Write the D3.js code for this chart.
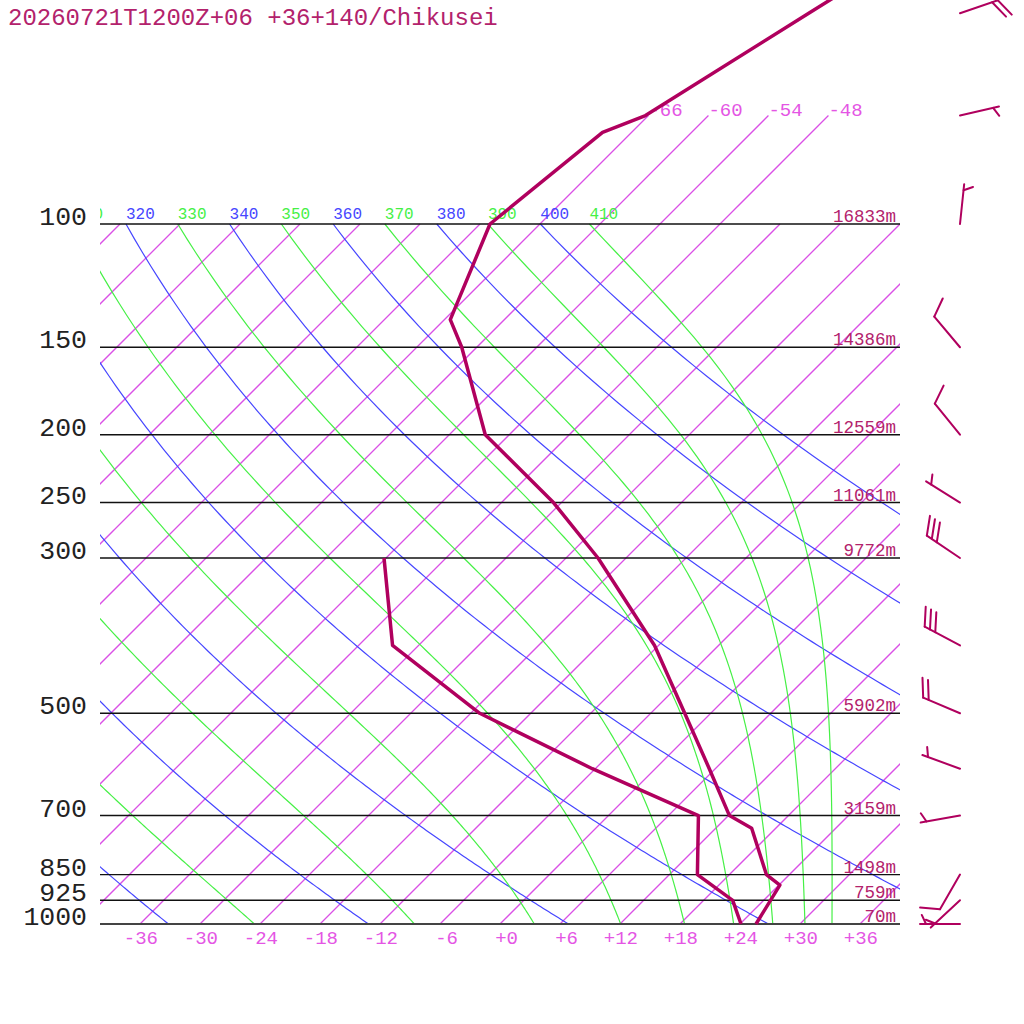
<!DOCTYPE html>
<html>
<head>
<meta charset="utf-8">
<script src="https://cdn.jsdelivr.net/npm/d3@7"></script>
<style>
  body { margin: 0; background: #fff; }
  svg { display: block; }
  text { font-family: "Liberation Mono", "DejaVu Sans Mono", monospace; }
</style>
</head>
<body>
<div id="chart"></div>
<script>
const title = "20260721T1200Z+06 +36+140/Chikusei";

// standard levels and their heights (m)
const levels = [1000, 925, 850, 700, 500, 300, 250, 200, 150, 100];
const heights = [70, 759, 1498, 3159, 5902, 9772, 11061, 12559, 14386, 16833];

// temperature profile (hPa, degC)
const tempP = [1000, 880, 850, 730, 700, 600, 500, 400, 300, 250, 200, 150, 137, 100, 74, 70, 50, 30];
const tempT = [25.6, 24.1, 21.7, 15.6, 12.1, 5.4, -2.6, -12.4, -26.8, -36.8, -50.4, -61.5, -65.4, -71.0, -68.9, -66.3, -60.2, -50.9];

// dewpoint profile (hPa, degC)
const dewP = [1000, 925, 850, 700, 600, 500, 400, 300];
const dewT = [24.1, 20.9, 14.8, 9.0, -6.3, -23.1, -38.6, -48.2];

// winds: direction (deg from), speed (kt)
const windP = [1000, 925, 850, 700, 600, 500, 400, 300, 250, 200, 150, 100, 70, 50];
const windDir = [270, 227, 210, 260, 290, 293, 298, 304, 302, 321, 320, 6, 77, 71];
const windSpd = [5, 5, 10, 5, 5, 20, 30, 30, 5, 10, 10, 5, 5, 20];

// grid line values
const isoTicks = [-36, -30, -24, -18, -12, -6, 0, 6, 12, 18, 24, 30, 36];
const isoTop = [-66, -60, -54, -48];
const thetaLevels = [240, 260, 280, 300, 320, 340, 360, 380, 400];
const thetaELevels = [250, 270, 290, 310, 330, 350, 370, 390, 410];

const W = 1024, H = 1024;
const box = {left: 100, right: 900, top: 224, bottom: 924};
const colors = {
    profile: 'rgb(176,0,94)',
    text: 'rgb(179,34,108)',
    iso: 'rgb(218,80,230)',
    isoLabel: 'rgb(228,85,228)',
    dry: 'rgb(70,70,255)',
    moist: 'rgb(70,240,70)'
};

const svg = d3.select('#chart').append('svg')
    .attr('width', W)
    .attr('height', H);

svg.append('rect').attr('width', W).attr('height', H).attr('fill', '#fff');

// scales: log-p vertical, skewed temperature horizontal
const y = d3.scaleLog().domain([1000, 100]).range([box.bottom, box.top]);
const x = d3.scaleLinear().domain([-36, 36]).range([140, 860]);
const skew = (t, p) => x(t) + (y(1000) - y(p));

const defs = svg.append('defs');
defs.append('clipPath').attr('id', 'plotClip')
    .append('rect').attr('x', box.left).attr('y', 0)
    .attr('width', box.right - box.left).attr('height', box.bottom);

const grid = svg.append('g').attr('clip-path', 'url(#plotClip)');
const lineGen = d3.line().x(d => skew(d.t, d.p)).y(d => y(d.p));

// isotherms (only the labelled upper ones run above 100 hPa)
const isotherms = d3.range(-108, 37, 6);
grid.selectAll('path.isotherm')
    .data(isotherms)
    .join('path')
    .attr('class', 'isotherm')
    .attr('d', t => lineGen([{p: 1000, t: t}, {p: isoTop.includes(t) ? 70 : 100, t: t}]))
    .style('fill', 'none')
    .style('stroke', colors.iso)
    .style('stroke-width', 1.3);

// dry adiabats
const pSteps = d3.range(1000, 99.9, -5);
const dryT = (theta, p) => theta * Math.pow(p / 1000, 0.2857) - 273.15;

grid.selectAll('path.dry')
    .data(thetaLevels)
    .join('path')
    .attr('class', 'dry')
    .attr('d', th => lineGen(pSteps.map(p => ({p: p, t: dryT(th, p)}))))
    .style('fill', 'none')
    .style('stroke', colors.dry)
    .style('stroke-width', 1.2);

// pseudo-adiabats from saturated theta-e
function esat(tc) { return 6.112 * Math.exp(17.67 * tc / (tc + 243.5)); }
function thetaESat(tk, p) {
    const es = esat(tk - 273.15);
    if (es > 0.5 * p) return Infinity;
    const rs = 0.622 * es / (p - es);
    return tk * Math.pow(1000 / p, 0.2857) * Math.exp(2675 * rs / tk);
}
function moistT(te, p) {
    let lo = 150, hi = 360;
    for (let i = 0; i < 50; i++) {
        const mid = (lo + hi) / 2;
        if (thetaESat(mid, p) > te) hi = mid; else lo = mid;
    }
    return lo - 273.15;
}

grid.selectAll('path.moist')
    .data(thetaELevels)
    .join('path')
    .attr('class', 'moist')
    .attr('d', te => lineGen(pSteps.map(p => ({p: p, t: moistT(te, p)}))))
    .style('fill', 'none')
    .style('stroke', colors.moist)
    .style('stroke-width', 1.2);

// theta labels along 100 hPa (skip the ones wholly left of the box)
const thetaLabels = thetaLevels.map(v => ({v: v, x: skew(dryT(v, 100), 100), c: colors.dry}))
    .concat(thetaELevels.map(v => ({v: v, x: skew(moistT(v, 100), 100), c: colors.moist})))
    .filter(d => d.x > box.left - 28);
grid.selectAll('text.th-label')
    .data(thetaLabels)
    .join('text')
    .attr('class', 'th-label')
    .attr('x', d => d.x)
    .attr('y', y(100) - 5)
    .attr('fill', d => d.c)
    .attr('font-size', 16)
    .text(d => d.v);

// pressure lines
svg.selectAll('line.plev')
    .data(levels)
    .join('line')
    .attr('class', 'plev')
    .attr('x1', box.left).attr('x2', box.right)
    .attr('y1', p => y(p)).attr('y2', p => y(p))
    .style('stroke', p => p === 1000 ? '#444' : '#111')
    .style('stroke-width', p => p === 1000 ? 2 : 1.4);

svg.selectAll('text.plabel')
    .data(levels)
    .join('text')
    .attr('class', 'plabel')
    .attr('x', 87)
    .attr('y', p => y(p) + 1)
    .attr('text-anchor', 'end')
    .attr('font-size', 26.5)
    .attr('fill', '#222')
    .text(p => p);

// heights at right end of pressure lines
svg.selectAll('text.hlabel')
    .data(levels)
    .join('text')
    .attr('class', 'hlabel')
    .attr('x', 896)
    .attr('y', p => y(p) - 2)
    .attr('text-anchor', 'end')
    .attr('font-size', 17.5)
    .attr('fill', colors.text)
    .text((p, i) => heights[i] + 'm');

// isotherm labels
const fmt = t => (t < 0 ? '' : '+') + t;
svg.selectAll('text.iso-bottom')
    .data(isoTicks)
    .join('text')
    .attr('class', 'iso-bottom')
    .attr('x', t => x(t) + 18)
    .attr('y', 944)
    .attr('text-anchor', 'end')
    .attr('font-size', 19)
    .attr('fill', colors.isoLabel)
    .text(fmt);

svg.selectAll('text.iso-top')
    .data(isoTop)
    .join('text')
    .attr('class', 'iso-top')
    .attr('x', t => skew(t, 70))
    .attr('y', y(70) + 0.5)
    .attr('font-size', 19)
    .attr('fill', colors.isoLabel)
    .text(fmt);

// profiles
const profLine = d3.line().x(d => skew(d[1], d[0])).y(d => y(d[0]));
svg.append('path')
    .attr('d', profLine(dewP.map((p, i) => [p, dewT[i]])))
    .style('fill', 'none')
    .style('stroke', colors.profile)
    .style('stroke-width', 3.5)
    .style('stroke-linejoin', 'round');

svg.append('path')
    .attr('d', profLine(tempP.map((p, i) => [p, tempT[i]])))
    .style('fill', 'none')
    .style('stroke', colors.profile)
    .style('stroke-width', 3.5)
    .style('stroke-linejoin', 'round');

// wind barbs
const barbX = 960, staffLen = 40, barbLen = 20, barbGap = 6;
const barbs = svg.append('g')
    .style('stroke', colors.profile)
    .style('stroke-width', 2)
    .style('stroke-linecap', 'round')
    .style('fill', 'none');

windP.forEach((p, i) => {
    const rad = windDir[i] * Math.PI / 180;
    const ux = Math.sin(rad), uy = -Math.cos(rad);
    const bx = barbX, by = y(p);
    const tx = bx + staffLen * ux, ty = by + staffLen * uy;
    const g = barbs.append('g');
    g.append('line').attr('x1', bx).attr('y1', by).attr('x2', tx).attr('y2', ty);

    const a = Math.atan2(uy, ux) + 65 * Math.PI / 180;
    const vx = Math.cos(a), vy = Math.sin(a);
    const spd = windSpd[i];
    const full = Math.floor(spd / 10);
    const half = (spd % 10) >= 5 ? 1 : 0;
    let k = 0;
    for (let j = 0; j < full; j++, k++) {
        const sx = tx - k * barbGap * ux, sy = ty - k * barbGap * uy;
        g.append('line').attr('x1', sx).attr('y1', sy)
            .attr('x2', sx + barbLen * vx).attr('y2', sy + barbLen * vy);
    }
    if (half) {
        if (full === 0) k = 1;
        const sx = tx - k * barbGap * ux, sy = ty - k * barbGap * uy;
        g.append('line').attr('x1', sx).attr('y1', sy)
            .attr('x2', sx + barbLen / 2 * vx).attr('y2', sy + barbLen / 2 * vy);
    }
});

// title
svg.append('text')
    .attr('x', 8)
    .attr('y', 25)
    .attr('font-size', 24)
    .attr('fill', colors.text)
    .text(title);
</script>
</body>
</html>
